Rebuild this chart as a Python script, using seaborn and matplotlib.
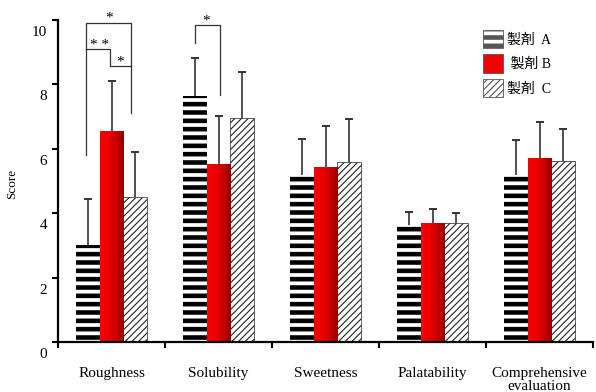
import numpy as np
import pandas as pd
import matplotlib
matplotlib.use('Agg')
import matplotlib.pyplot as plt
import matplotlib.transforms as mtransforms
from matplotlib.patches import Patch
from matplotlib.colors import LinearSegmentedColormap
import seaborn as sns

# Données
categories = ['Roughness', 'Solubility', 'Sweetness', 'Palatability', 'Comprehensive\nevaluation']
groups = ['A', 'B', 'C']
legend_labels = ['製剤  A', ' 製剤 B', '製剤  C']
mean_a = [3.0, 7.65, 5.19, 3.63, 5.19]
mean_b = [6.54, 5.5, 5.43, 3.69, 5.7]
mean_c = [4.5, 6.97, 5.58, 3.69, 5.61]
sd_a = [1.43, 1.18, 1.11, 0.42, 1.09]
sd_b = [1.57, 1.53, 1.29, 0.44, 1.13]
sd_c = [1.41, 1.42, 1.33, 0.31, 1.01]
y_ticks = [0, 2, 4, 6, 8, 10]

# Crochets de significativité : (x gauche, x droite, y, bas gauche, bas droite, texte, x texte)
brackets = [
    (-0.238, 0.182, 9.92, 5.81, 7.12, '*', -0.025),
    (-0.238, -0.014, 9.09, 9.09, 8.58, '* *', -0.11),
    (-0.014, 0.182, 8.58, 8.58, 8.58, '*', 0.08),
    (0.78, 1.014, 9.84, 9.29, 7.67, '*', 0.885),
]

df = pd.DataFrame({
    'category': categories * 3,
    'group': [g for g in groups for _ in categories],
    'score': mean_a + mean_b + mean_c,
    'sd': sd_a + sd_b + sd_c,
})

serif = ['Liberation Serif', 'Noto Sans CJK JP']
plt.rcParams['font.family'] = serif
plt.rcParams['hatch.color'] = 'black'

fig = plt.figure(figsize=(5.96, 3.92), dpi=100)
ax = fig.add_axes([58 / 596, 50 / 392, 535 / 596, 322 / 392])

sns.barplot(data=df, x='category', y='score', hue='group', order=categories,
            hue_order=groups, palette={'A': 'white', 'B': '#f20000', 'C': 'white'},
            width=0.67, errorbar=None, legend=False, ax=ax)

hatches = ['--', None, '/////']
hatch_lw = [3.3, 1.0, 0.8]
edges = ['black', 'none', '#222222']
lws = [0, 0, 0.5]
for cont, h, hl, ec, lw in zip(ax.containers, hatches, hatch_lw, edges, lws):
    for bar in cont:
        bar.set_edgecolor(ec)
        bar.set_linewidth(lw)
        if h:
            bar.set_hatch(h)
            if hasattr(bar, 'set_hatch_linewidth'):
                bar.set_hatch_linewidth(hl)

# Dégradé rouge sur les barres B
grad_cmap = LinearSegmentedColormap.from_list('rouge', ['#f80000', '#ee0000', '#cc0000', '#900000'])
grad = np.linspace(0, 1, 64).reshape(1, -1)
for bar in ax.containers[1]:
    x0, w, h = bar.get_x(), bar.get_width(), bar.get_height()
    ax.imshow(grad, extent=[x0, x0 + w, 0, h], aspect='auto', cmap=grad_cmap,
              zorder=bar.get_zorder() + 0.1, interpolation='bilinear')

# Barres d'erreur (uniquement vers le haut)
sds = [sd_a, sd_b, sd_c]
for cont, sd in zip(ax.containers, sds):
    xs = [b.get_x() + b.get_width() / 2 for b in cont]
    ys = np.array([b.get_height() for b in cont])
    tops = ys + np.array(sd)
    ax.vlines(xs, ys, tops, color='#333333', lw=1.2, zorder=5)
    ax.plot(xs, tops, ls='none', marker='_', markersize=6, mew=1.4, color='#333333', zorder=5)

# Crochets
for xl, xr, y, yl, yr, txt, xt in brackets:
    ax.plot([xl, xl, xr, xr], [yl, y, y, yr], color='#333333', lw=0.9, clip_on=False, zorder=6)
    ax.text(xt, y + 0.02, txt, ha='center', va='baseline', fontsize=11, clip_on=False)

ax.set_xlim(-0.5, 4.5)
ax.set_ylim(0, 10)
ax.set_yticks(y_ticks)
ax.set_yticklabels([str(t) for t in y_ticks], fontsize=11)
ax.set_xticks(range(len(categories)))
ax.set_xticklabels(categories, fontsize=11, linespacing=1.05)
ax.set_xticks(np.arange(-0.5, 5, 1), minor=True)
ax.tick_params(axis='x', which='major', length=0, pad=18)
ax.tick_params(axis='x', which='minor', length=4, width=1.5, direction='out')
ax.tick_params(axis='y', length=4, width=1.5, direction='out', pad=4)

# Décalage des étiquettes de l'axe y vers le bas
offset = mtransforms.ScaledTranslation(0, -0.11, fig.dpi_scale_trans)
for lab in ax.get_yticklabels():
    lab.set_transform(lab.get_transform() + offset)

for side in ['top', 'right']:
    ax.spines[side].set_visible(False)
for side in ['left', 'bottom']:
    ax.spines[side].set_linewidth(1.6)
    ax.spines[side].set_color('black')

ax.set_xlabel('')
ax.set_ylabel('Score', fontsize=9.5)
ax.yaxis.set_label_coords(-0.075, 0.49)

# Légende
handles = [Patch(facecolor=fc, edgecolor='#555555', hatch=h, linewidth=0.6)
           for fc, h in zip(['white', '#f20000', 'white'], hatches)]
leg = ax.legend(handles, legend_labels, loc='upper left', bbox_to_anchor=(0.794, 0.97),
                frameon=False, fontsize=10, handlelength=1.45, handleheight=1.65,
                handletextpad=0.3, labelspacing=0.45, borderpad=0, borderaxespad=0)
for p, hl in zip(leg.get_patches(), hatch_lw):
    if hasattr(p, 'set_hatch_linewidth'):
        p.set_hatch_linewidth(hl)

fig.savefig('out.png', dpi=100)
